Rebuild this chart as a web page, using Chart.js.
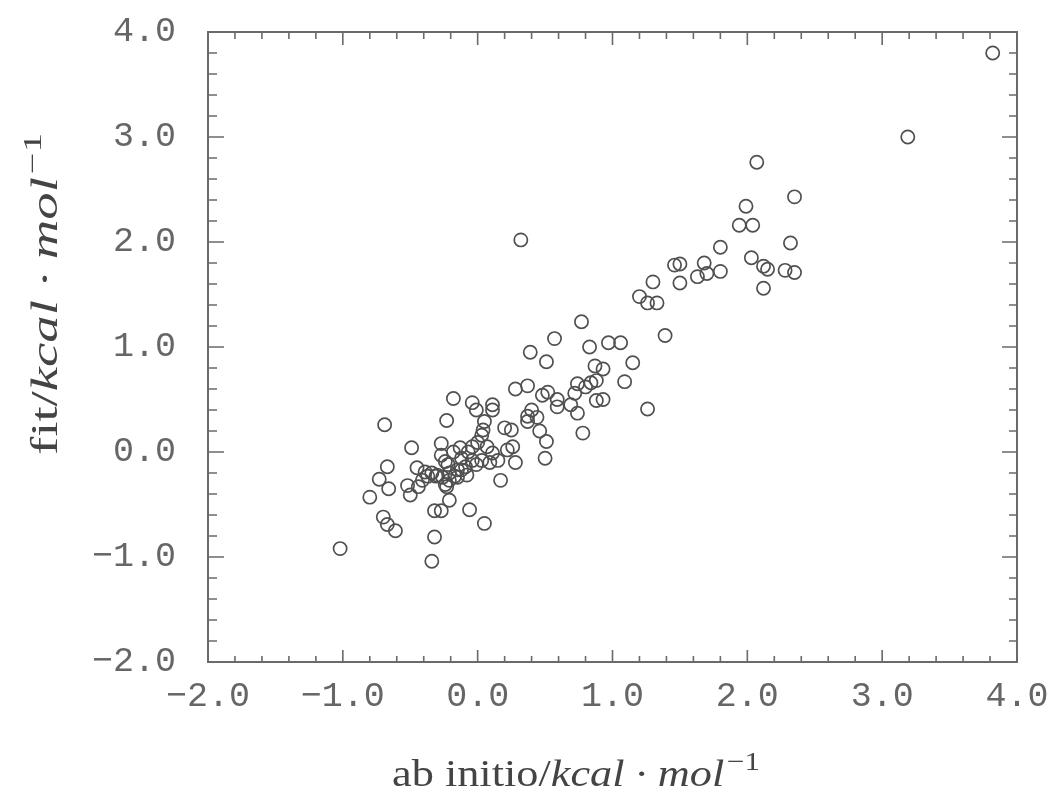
<!DOCTYPE html>
<html><head><meta charset="utf-8">
<script src="https://cdn.jsdelivr.net/npm/chart.js@4.4.1/dist/chart.umd.min.js"></script>
<style>html,body{margin:0;padding:0;background:#fff;}#wrap{width:1047px;height:802px;}</style>
</head><body><div id="wrap"><canvas id="c" width="1047" height="802"></canvas></div>
<script>
// ab initio energies (x) and fitted energies (y), kcal/mol
const abInitio = [
  3.82, 3.19, 2.07, 2.35, 1.99, 1.94, 2.04, 2.32, 1.80, 2.03,
  2.12, 2.15, 2.28, 2.35, 2.12, 1.80, 1.68, 1.63, 1.70, 1.50,
  1.46, 1.50, 1.30, 1.20, 1.26, 1.33, 1.39, 0.97, 1.06, 0.77,
  0.83, 1.15, 1.09, 0.87, 0.93, 1.26, 0.74, 0.80, 0.84, 0.88,
  0.72, 0.88, 0.93, 0.69, 0.74, 0.59, 0.59, 0.52, 0.48, 0.78,
  0.57, 0.39, 0.51, 0.28, 0.37, 0.40, 0.37, 0.44, 0.37, 0.46,
  0.51, 0.50, 0.32, -0.18, -0.04, -0.01, 0.11, 0.11, -0.23, 0.05,
  0.04, 0.03, 0.20, 0.25, 0.00, 0.07, 0.11, 0.15, 0.09, 0.22,
  0.26, 0.28, 0.17, -0.27, -0.18, -0.12, -0.07, -0.04, -0.04, -0.09,
  -0.15, -0.21, -0.26, -0.21, -0.15, -0.08, -0.23, -0.01, 0.03, -0.21,
  -0.32, -0.27, -0.06, 0.05, -0.32, -0.34, -0.69, -0.49, -0.67, -0.73,
  -0.66, -0.80, -0.70, -0.67, -0.61, -1.02, -0.52, -0.50, -0.44, -0.41,
  -0.45, -0.39, -0.34, -0.30, -0.27, -0.22, -0.24, -0.31, -0.37, -0.17,
  -0.12, -0.13, -0.24
];
const fitValues = [
  3.80, 3.00, 2.76, 2.43, 2.34, 2.16, 2.16, 1.99, 1.95, 1.85,
  1.77, 1.74, 1.73, 1.71, 1.56, 1.72, 1.80, 1.67, 1.70, 1.61,
  1.78, 1.79, 1.62, 1.48, 1.42, 1.42, 1.11, 1.04, 1.04, 1.24,
  1.00, 0.85, 0.67, 0.82, 0.79, 0.41, 0.65, 0.62, 0.66, 0.68,
  0.56, 0.49, 0.50, 0.45, 0.37, 0.50, 0.43, 0.57, 0.54, 0.18,
  1.08, 0.95, 0.86, 0.60, 0.63, 0.40, 0.34, 0.33, 0.29, 0.20,
  0.10, -0.06, 2.02, 0.51, 0.47, 0.40, 0.45, 0.40, 0.30, 0.29,
  0.21, 0.16, 0.23, 0.21, 0.09, 0.05, -0.01, -0.08, -0.10, 0.02,
  0.05, -0.10, -0.27, 0.08, 0.00, -0.06, 0.00, 0.05, -0.08, -0.14,
  -0.17, -0.20, -0.24, -0.27, -0.24, -0.22, -0.33, -0.12, -0.08, -0.46,
  -0.56, -0.56, -0.55, -0.68, -0.81, -1.04, 0.26, 0.04, -0.14, -0.26,
  -0.35, -0.43, -0.62, -0.69, -0.75, -0.92, -0.32, -0.41, -0.33, -0.27,
  -0.15, -0.19, -0.20, -0.22, -0.03, -0.12, -0.31, -0.23, -0.23, -0.23,
  -0.17, 0.04, -0.09
];
const xTickValues = [-2, -1, 0, 1, 2, 3, 4];
const yTickValues = [-2, -1, 0, 1, 2, 3, 4];
const xTitleParts = ['ab initio/', 'kcal \u00b7 mol', '\u22121'];
const yTitleParts = ['fit/', 'kcal \u00b7 mol', '\u22121'];

const points = abInitio.map((x, i) => ({x: x, y: fitValues[i]}));
const fmt = v => (v < 0 ? '\u2212' : '') + Math.abs(v).toFixed(1);
const AXIS_COLOR = '#6a6a6a';

function drawMathTitle(ctx, parts, size, targetLen) {
  const fUp = size + 'px "Liberation Serif"';
  const fIt = 'italic ' + size + 'px "Liberation Serif"';
  const supSize = Math.round(size * 0.7);
  const fSup = supSize + 'px "Liberation Serif"';
  ctx.font = fUp; const w1 = ctx.measureText(parts[0]).width;
  ctx.font = fIt; const w2 = ctx.measureText(parts[1]).width;
  ctx.font = fSup; const w3 = ctx.measureText(parts[2]).width;
  const gap = size * 0.06;
  const s = targetLen / (w1 + w2 + gap + w3);
  ctx.scale(s, 1);
  ctx.textBaseline = 'alphabetic';
  ctx.textAlign = 'left';
  ctx.font = fUp; ctx.fillText(parts[0], 0, 0);
  ctx.font = fIt; ctx.fillText(parts[1], w1, 0);
  ctx.font = fSup; ctx.fillText(parts[2], w1 + w2 + gap, -size * 0.42);
}

const framePlugin = {
  id: 'frame',
  afterDraw(chart) {
    const {ctx, chartArea: a, scales: {x, y}} = chart;
    ctx.save();
    ctx.strokeStyle = AXIS_COLOR;
    ctx.lineWidth = 2;
    ctx.strokeRect(a.left, a.top, a.right - a.left, a.bottom - a.top);
    ctx.lineWidth = 1.6;
    ctx.beginPath();
    for (let i = 1; i < 30; i++) {
      const v = -2 + i * 0.2;
      const major = i % 5 === 0;
      const px = x.getPixelForValue(v);
      const lb = major ? 12 : 6, lt = major ? 13 : 7;
      ctx.moveTo(px, a.bottom); ctx.lineTo(px, a.bottom - lb);
      ctx.moveTo(px, a.top); ctx.lineTo(px, a.top + lt);
      const py = y.getPixelForValue(v);
      const ll = major ? 16 : 9, lr = major ? 15 : 8;
      ctx.moveTo(a.left, py); ctx.lineTo(a.left + ll, py);
      ctx.moveTo(a.right, py); ctx.lineTo(a.right - lr, py);
    }
    ctx.stroke();
    // axis titles
    ctx.fillStyle = '#444';
    ctx.save();
    ctx.translate(392, 786);
    drawMathTitle(ctx, xTitleParts, 37, 368);
    ctx.restore();
    ctx.save();
    ctx.translate(57, 455);
    ctx.rotate(-Math.PI / 2);
    drawMathTitle(ctx, yTitleParts, 37, 322);
    ctx.restore();
    ctx.restore();
  }
};

new Chart(document.getElementById('c'), {
  type: 'scatter',
  data: {
    datasets: [{
      data: points,
      pointStyle: 'circle',
      pointRadius: 6.6,
      pointHoverRadius: 6.6,
      borderColor: '#505050',
      borderWidth: 1.7,
      backgroundColor: 'rgba(0,0,0,0)'
    }]
  },
  options: {
    responsive: false,
    animation: false,
    devicePixelRatio: 1,
    layout: {padding: {left: 0, right: 30, top: 32, bottom: 0}},
    plugins: {legend: {display: false}, tooltip: {enabled: false}},
    scales: {
      x: {
        type: 'linear', min: -2, max: 4,
        afterBuildTicks: s => { s.ticks = xTickValues.map(v => ({value: v})); },
        afterFit: s => { s.height = 140; s.paddingLeft = 0; s.paddingRight = 0; },
        grid: {display: false, drawTicks: false},
        border: {display: false},
        ticks: {
          padding: 14, color: '#666', maxRotation: 0, autoSkip: false,
          font: {family: '"Liberation Mono", "DejaVu Sans Mono", monospace', size: 35},
          callback: v => fmt(v)
        }
      },
      y: {
        type: 'linear', min: -2, max: 4,
        afterBuildTicks: s => { s.ticks = yTickValues.map(v => ({value: v})); },
        afterFit: s => { s.width = 208; s.paddingTop = 0; s.paddingBottom = 0; },
        grid: {display: false, drawTicks: false},
        border: {display: false},
        ticks: {
          padding: 32, color: '#666', autoSkip: false,
          font: {family: '"Liberation Mono", "DejaVu Sans Mono", monospace', size: 35},
          callback: v => fmt(v)
        }
      }
    }
  },
  plugins: [framePlugin]
});
</script>
</body></html>
